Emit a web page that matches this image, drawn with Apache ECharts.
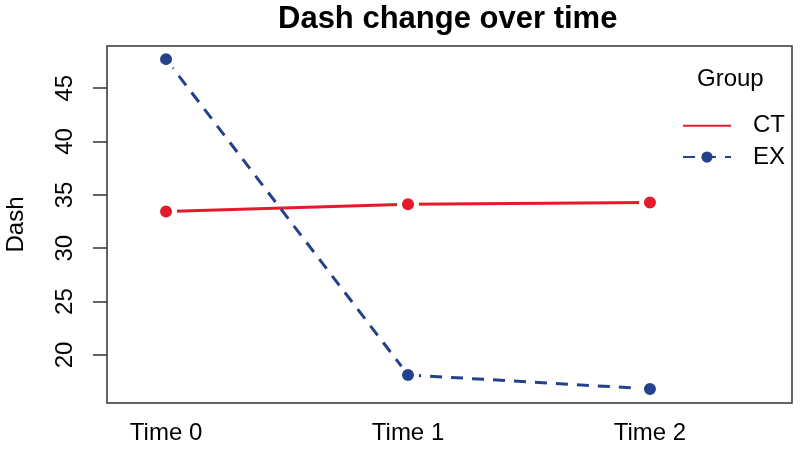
<!DOCTYPE html>
<html>
<head>
<script src="https://cdn.jsdelivr.net/npm/echarts@6/dist/echarts.min.js"></script>
<style>
body { margin: 0; background: #fff; }
#chart { width: 800px; height: 450px; }
</style>
</head>
<body>
<div id="chart"></div>
<script>
// data
var categories = ['Time 0', 'Time 1', 'Time 2'];
var ctValues = [33.45, 34.13, 34.29];
var exValues = [47.72, 18.13, 16.82];
var yTicks = [20, 25, 30, 35, 40, 45];

var font = 'Liberation Sans, Arial, sans-serif';
var red = '#E31B2D';
var blue = '#24418C';

function toPoints(vals) {
  var out = [];
  for (var i = 0; i < vals.length; i++) {
    out.push([i + 1, vals[i]]);
  }
  return out;
}

var myChart = echarts.init(document.getElementById('chart'));

var option = {
  backgroundColor: '#fff',
  animation: false,
  title: [
    {
      text: 'Dash change over time',
      left: 278,
      top: -7,
      padding: 0,
      textStyle: { fontFamily: font, fontSize: 31, fontWeight: 'bold', color: '#000' }
    },
    {
      text: 'Group',
      left: 697,
      top: 59,
      padding: 0,
      textStyle: { fontFamily: font, fontSize: 24, fontWeight: 'normal', color: '#000' }
    }
  ],
  legend: {
    orient: 'vertical',
    left: 682,
    top: 105,
    padding: 0,
    itemWidth: 48,
    itemHeight: 14,
    itemGap: -10,
    textStyle: { fontFamily: font, fontSize: 24, color: '#000', padding: [0, 0, 0, 17] },
    data: [
      { name: 'CT', icon: 'path://M0,0 H48 V2 H0 Z', itemStyle: { color: red, borderWidth: 0 } },
      { name: 'EX', itemStyle: { color: blue, borderWidth: 0 } }
    ]
  },
  grid: {
    left: 107,
    right: 8,
    top: 46,
    bottom: 47,
    containLabel: false,
    outerBoundsMode: 'none',
    show: true,
    borderColor: '#333',
    borderWidth: 1.5,
    backgroundColor: 'transparent'
  },
  xAxis: {
    type: 'value',
    min: 0.756,
    max: 3.587,
    axisLine: { show: false },
    axisTick: { show: false },
    splitLine: { show: false },
    axisLabel: {
      customValues: [1, 2, 3],
      formatter: function (v) { return categories[Math.round(v) - 1]; },
      fontFamily: font,
      fontSize: 24,
      color: '#000',
      margin: 10
    }
  },
  yAxis: {
    type: 'value',
    min: 15.5,
    max: 48.95,
    name: 'Dash',
    nameLocation: 'middle',
    nameGap: 66,
    nameTextStyle: { fontFamily: font, fontSize: 24, color: '#000' },
    axisLine: { show: false },
    splitLine: { show: false },
    axisTick: {
      show: true,
      customValues: yTicks,
      length: 14,
      lineStyle: { color: '#333', width: 1.5 }
    },
    axisLabel: {
      customValues: yTicks,
      rotate: 90,
      fontFamily: font,
      fontSize: 24,
      color: '#000',
      margin: 21
    }
  },
  series: [
    {
      name: 'CT',
      type: 'line',
      data: toPoints(ctValues),
      symbol: 'circle',
      symbolSize: 17,
      lineStyle: { color: red, width: 3 },
      itemStyle: { color: red, borderColor: '#fff', borderWidth: 5 }
    },
    {
      name: 'EX',
      type: 'line',
      data: toPoints(exValues),
      symbol: 'circle',
      symbolSize: 17,
      lineStyle: { color: blue, width: 3, type: [12, 9] },
      itemStyle: { color: blue, borderColor: '#fff', borderWidth: 5 }
    }
  ]
};

myChart.setOption(option);
</script>
</body>
</html>
